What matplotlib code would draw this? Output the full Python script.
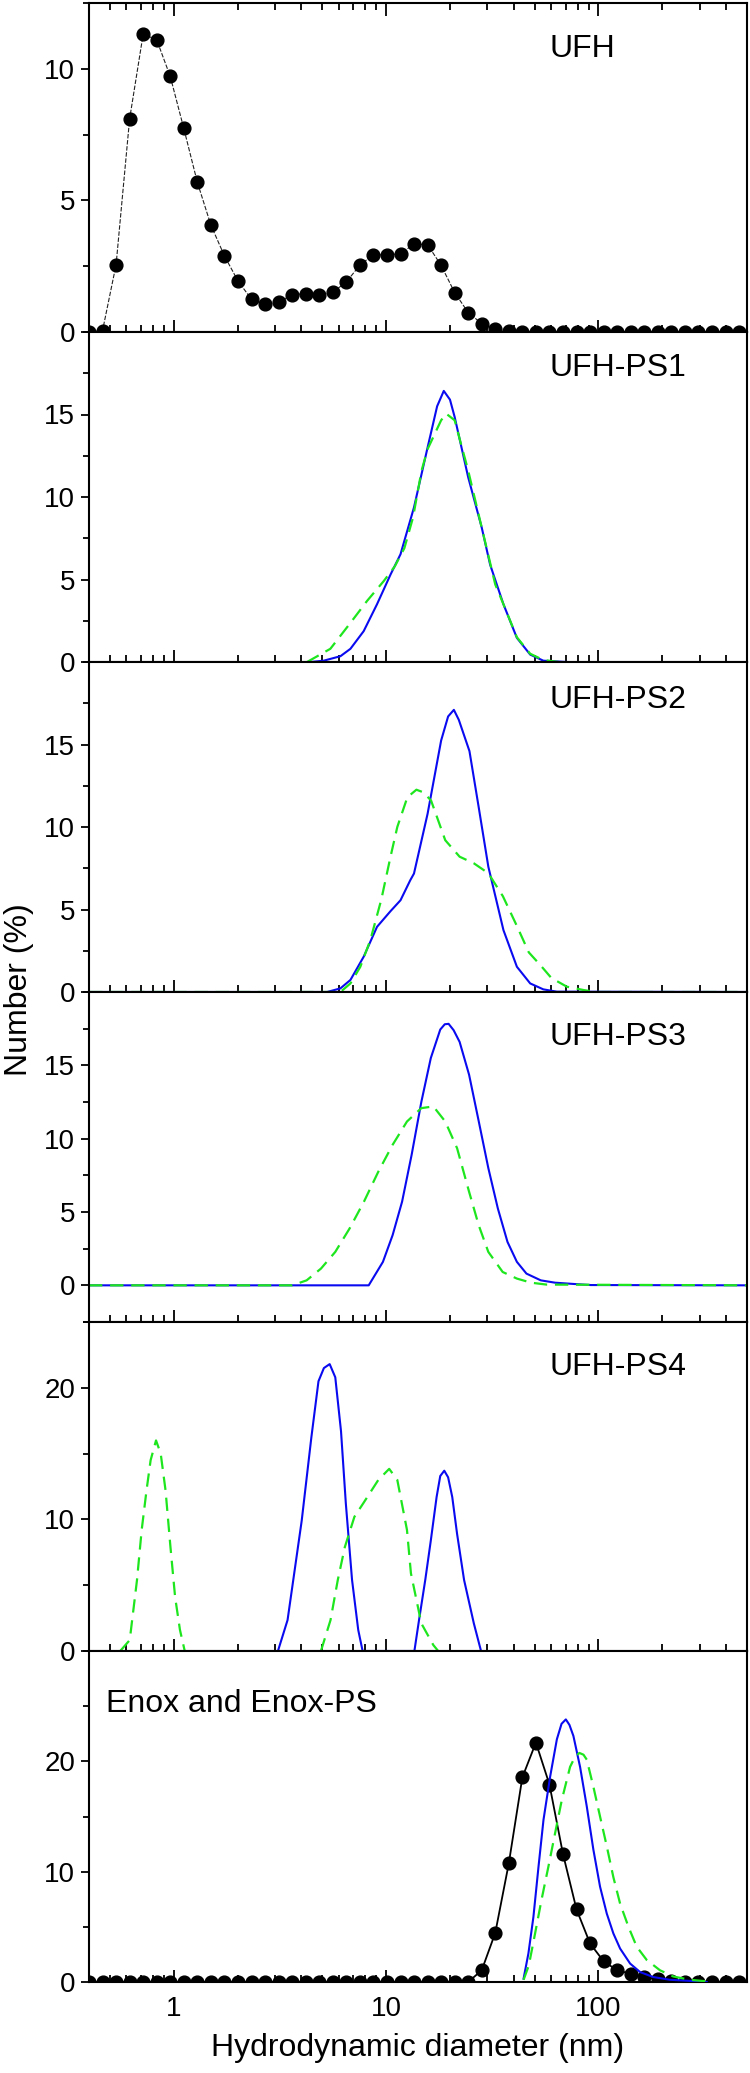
import numpy as np
import matplotlib
matplotlib.use('Agg')
import matplotlib.pyplot as plt
from matplotlib.ticker import LogLocator, MultipleLocator, FixedLocator, NullFormatter

plt.rcParams['font.family'] = ['Liberation Sans', 'DejaVu Sans']

# DLS size classes (nm) used for the measured points
bins_nm = [0.4, 0.4632, 0.5365, 0.6213, 0.7195, 0.8332, 0.9649, 1.117, 1.294, 1.499,
           1.736, 2.010, 2.328, 2.696, 3.122, 3.615, 4.187, 4.849, 5.615, 6.503,
           7.531, 8.721, 10.10, 11.70, 13.54, 15.69, 18.17, 21.04, 24.36, 28.21,
           32.67, 37.84, 43.82, 50.75, 58.77, 68.06, 78.82, 91.28, 105.7, 122.4,
           141.8, 164.2, 190.1, 220.2, 255.0, 295.3, 342.0, 396.1, 458.7]

ufh = [0, 0.05, 2.56, 8.1, 11.32, 11.1, 9.71, 7.74, 5.69, 4.06,
       2.89, 1.94, 1.24, 1.05, 1.14, 1.41, 1.46, 1.41, 1.51, 1.90,
       2.54, 2.94, 2.92, 2.98, 3.34, 3.32, 2.53, 1.50, 0.74, 0.32,
       0.13, 0.03, 0, 0, 0, 0, 0, 0, 0, 0,
       0, 0, 0, 0, 0, 0, 0, 0, 0]

enox = [0, 0, 0, 0, 0, 0, 0, 0, 0, 0,
        0, 0, 0, 0, 0, 0, 0, 0, 0, 0,
        0, 0, 0, 0, 0, 0, 0, 0, 0, 1.06,
        4.45, 10.76, 18.55, 21.7, 17.9, 11.6, 6.58, 3.49, 1.88, 1.06,
        0.75, 0.45, 0.25, 0.1, 0, 0, 0, 0, 0]

# UFH-PS1
ps1_blue_d = [4.41, 5.09, 6.1, 6.8, 7.85, 9.07, 10.5, 11.7, 13.54, 15.69, 17.4, 18.7,
              20.0, 21.04, 24.36, 28.21, 30.9, 35.7, 41.3, 47.7, 55, 71]
ps1_blue = [0, 0.08, 0.35, 0.8, 1.87, 3.5, 5.3, 6.53, 9.37, 13.0, 15.5, 16.43,
            15.9, 14.85, 11.2, 8.15, 5.9, 3.5, 1.46, 0.45, 0.08, 0]
ps1_green_d = [4.25, 5.47, 6.8, 8.14, 9.75, 11.0, 12.2, 13.4, 14.7, 15.69, 18.17, 19.2,
               21.04, 24.36, 28.21, 32.67, 35.7, 41.3, 47.7, 55, 65]
ps1_green = [0, 0.8, 2.37, 3.7, 4.9, 5.8, 6.9, 8.76, 11.6, 12.9, 14.65, 15.05,
             14.65, 11.6, 8.15, 4.7, 3.5, 1.5, 0.5, 0.12, 0]

# UFH-PS2
ps2_blue_d = [0.4, 5.28, 6.1, 6.8, 7.85, 9.07, 10.5, 11.7, 13.0, 13.54, 15.69, 18.17,
              19.6, 20.86, 22.0, 24.7, 27.3, 30.3, 35.7, 41.3, 47.7, 55, 63.7, 500]
ps2_blue = [0, 0, 0.22, 0.73, 2.14, 3.95, 4.9, 5.56, 6.77, 7.18, 10.8, 15.24,
            16.7, 17.1, 16.5, 14.6, 11.2, 7.6, 3.75, 1.53, 0.52, 0.16, 0.02, 0]
ps2_green_d = [0.4, 6.1, 6.8, 7.57, 8.44, 9.5, 10.5, 11.3, 12.6, 13.9, 15.0, 16.3, 19.0,
               22.2, 25.9, 30.3, 35.5, 41.3, 47, 53.5, 60, 71, 85, 97, 500]
ps2_green = [0, 0, 0.52, 1.53, 3.15, 5.6, 8.2, 10.0, 11.8, 12.26, 12.1, 11.6, 9.2,
             8.2, 7.8, 7.2, 5.8, 4.0, 2.4, 1.6, 0.85, 0.32, 0.12, 0, 0]

# UFH-PS3
ps3_blue_d = [0.4, 8.29, 9.67, 10.74, 11.9, 13.2, 14.66, 16.25, 18.0, 18.9, 19.7, 20.8,
              22.2, 24.6, 27.3, 30.3, 33.6, 37.3, 41.3, 45.8, 53.5, 62.5, 77, 92, 500]
ps3_blue = [0, 0, 1.6, 3.42, 5.7, 8.9, 12.5, 15.5, 17.44, 17.8, 17.83, 17.4,
            16.6, 14.36, 11.2, 8.0, 5.24, 2.96, 1.6, 0.8, 0.34, 0.18, 0.09, 0.02, 0]
ps3_green_d = [0.4, 3.62, 4.23, 4.94, 5.77, 6.74, 7.87, 9.2, 10.74, 12.55, 14.66, 16.7,
               19.0, 21.6, 24.6, 27.3, 30.3, 35.4, 41.3, 48.2, 57, 500]
ps3_green = [0, 0, 0.34, 1.14, 2.28, 3.88, 5.7, 7.75, 9.58, 11.17, 12.08, 12.2,
             11.17, 9.35, 6.38, 4.1, 2.28, 0.91, 0.46, 0.18, 0.05, 0]

# UFH-PS4
ps4_blue_d = [3.10, 3.44, 3.66, 4.01, 4.45, 4.81, 5.1, 5.43, 5.77, 6.14, 6.47, 6.92,
              7.4, 7.76, 13.6, 14.3, 15.3, 16.25, 17.3, 18.0, 18.8, 19.6, 20.5, 21.6,
              23.3, 25.9, 28.0]
ps4_blue = [0, 2.35, 5.4, 9.9, 16.2, 20.5, 21.5, 21.8, 20.8, 16.7, 11.2, 5.4,
            1.6, 0, 0, 2.35, 5.4, 8.4, 11.7, 13.3, 13.7, 13.2, 11.7, 8.9,
            5.4, 2.1, 0]
ps4_green_d = [0.561, 0.622, 0.673, 0.708, 0.746, 0.78, 0.827, 0.87, 0.917, 0.967, 1.017,
               1.072, 1.129, 2.0,
               4.94, 5.48, 5.93, 6.4, 7.1, 7.87, 9.2, 10.35, 11.3, 12.55, 13.1, 14.66,
               16.7, 17.6]
ps4_green = [0, 0.83, 5.4, 9.2, 12.2, 14.5, 16.0, 15.0, 12.2, 7.9, 4.1,
             1.6, 0, np.nan,
             0, 2.35, 5.4, 7.9, 10.2, 11.3, 13.0, 13.84, 13.0, 9.2, 5.9, 2.1,
             0.45, 0]

# Enox-PS
enox_blue_d = [44.4, 46.8, 49.4, 52.2, 55.1, 59.2, 63.7, 67.0, 70.2, 73.0, 76.2, 81.9,
               88.1, 94.6, 101.7, 109.4, 117.5, 126.4, 140.9, 157, 181, 217, 270, 323]
enox_blue = [0.3, 2.6, 5.9, 10.45, 14.7, 18.6, 22.0, 23.4, 23.8, 23.3, 22.3, 19.5,
             15.9, 12.0, 8.64, 6.2, 4.4, 3.03, 1.67, 0.9, 0.45, 0.2, 0.1, 0]
enox_green_d = [44.4, 47, 50.3, 54, 58.1, 62.5, 67.2, 73.5, 77.5, 81.3, 85.0, 88.1, 94.6,
                101.7, 109.4, 117.5, 126.4, 138.4, 151.3, 168.6, 194.8, 225, 270, 323]
enox_green = [0.2, 1.5, 4.4, 7.5, 10.45, 13.5, 16.5, 19.5, 20.4, 20.76, 20.6, 20.15, 17.7,
              15.0, 12.3, 9.5, 7.1, 5.0, 3.2, 2.0, 1.06, 0.5, 0.2, 0.06]

labels = ['UFH', 'UFH-PS1', 'UFH-PS2', 'UFH-PS3', 'UFH-PS4', 'Enox and Enox-PS']

BLUE = '#0a0af0'
GREEN = '#1ee61e'

W, H = 750, 2073
edges = [3, 332, 662, 992, 1322, 1651, 1982]
left, right = 89, 747

fig = plt.figure(figsize=(W / 100, H / 100), dpi=100)
axes = []
for i in range(6):
    t, b = edges[i], edges[i + 1]
    ax = fig.add_axes([left / W, 1 - b / H, (right - left) / W, (b - t) / H])
    axes.append(ax)

ylims = [(0, 12.5), (0, 20), (0, 20), (-2.5, 20), (0, 25), (0, 30)]
ymajor = [[0, 5, 10], [0, 5, 10, 15], [0, 5, 10, 15], [0, 5, 10, 15], [0, 10, 20], [0, 10, 20]]
yminor = [2.5, 2.5, 2.5, 2.5, 5, 5]
label_pos = [(0.70, 0.86), (0.70, 0.89), (0.70, 0.885), (0.70, 0.864), (0.70, 0.862), (0.026, 0.841)]

# panel data
ax = axes[0]
ax.plot(bins_nm, ufh, color='#222222', lw=0.8, ls=(0, (4, 1.5)), zorder=2)
ax.plot(bins_nm, ufh, 'o', color='black', ms=9.2, zorder=3)

ax = axes[1]
ax.plot(ps1_blue_d, ps1_blue, color=BLUE, lw=1.5)
ax.plot(ps1_green_d, ps1_green, color=GREEN, lw=1.6, ls=(0, (6, 3.5)))

ax = axes[2]
ax.plot(ps2_blue_d, ps2_blue, color=BLUE, lw=1.5)
ax.plot(ps2_green_d, ps2_green, color=GREEN, lw=1.6, ls=(0, (6, 3.5)))

ax = axes[3]
ax.plot(ps3_blue_d, ps3_blue, color=BLUE, lw=1.5)
ax.plot(ps3_green_d, ps3_green, color=GREEN, lw=1.6, ls=(0, (6, 3.5)))

ax = axes[4]
ax.plot(ps4_blue_d, ps4_blue, color=BLUE, lw=1.5)
ax.plot(ps4_green_d, ps4_green, color=GREEN, lw=1.6, ls=(0, (6, 3.5)))

ax = axes[5]
ax.plot(bins_nm, enox, color='black', lw=1.3, zorder=2)
ax.plot(bins_nm, enox, 'o', color='black', ms=9.2, zorder=3)
ax.plot(enox_blue_d, enox_blue, color=BLUE, lw=1.5, zorder=4)
ax.plot(enox_green_d, enox_green, color=GREEN, lw=1.6, ls=(0, (6, 3.5)), zorder=4)

for i, ax in enumerate(axes):
    ax.set_xscale('log')
    ax.set_xlim(0.4, 500)
    ax.set_ylim(*ylims[i])
    ax.xaxis.set_major_locator(LogLocator(base=10, numticks=10))
    ax.xaxis.set_minor_locator(LogLocator(base=10, subs=np.arange(2, 10), numticks=30))
    ax.xaxis.set_minor_formatter(NullFormatter())
    ax.yaxis.set_major_locator(FixedLocator(ymajor[i]))
    ax.yaxis.set_minor_locator(MultipleLocator(yminor[i]))
    ax.tick_params(axis='x', which='both', direction='in', top=(i == 0), bottom=True,
                   labelbottom=(i == 5), labelsize=20, width=1.3, pad=10)
    ax.tick_params(axis='x', which='major', length=9)
    ax.tick_params(axis='x', which='minor', length=5)
    ax.tick_params(axis='y', which='both', direction='out', right=False, labelsize=20,
                   width=1.3, pad=4)
    ax.tick_params(axis='y', which='major', length=6)
    ax.tick_params(axis='y', which='minor', length=4)
    for s in ax.spines.values():
        s.set_linewidth(1.5)
    ax.text(label_pos[i][0], label_pos[i][1], labels[i], transform=ax.transAxes,
            ha='left', va='center', fontsize=23)

axes[5].set_xticks([1, 10, 100])
axes[5].set_xticklabels(['1', '10', '100'])
axes[5].set_xlabel('Hydrodynamic diameter (nm)', fontsize=23, labelpad=8)

fig.text(0.026, 1 - 990 / H, 'Number (%)', rotation=90, ha='center', va='center', fontsize=23)

fig.savefig('out.png', dpi=100)
